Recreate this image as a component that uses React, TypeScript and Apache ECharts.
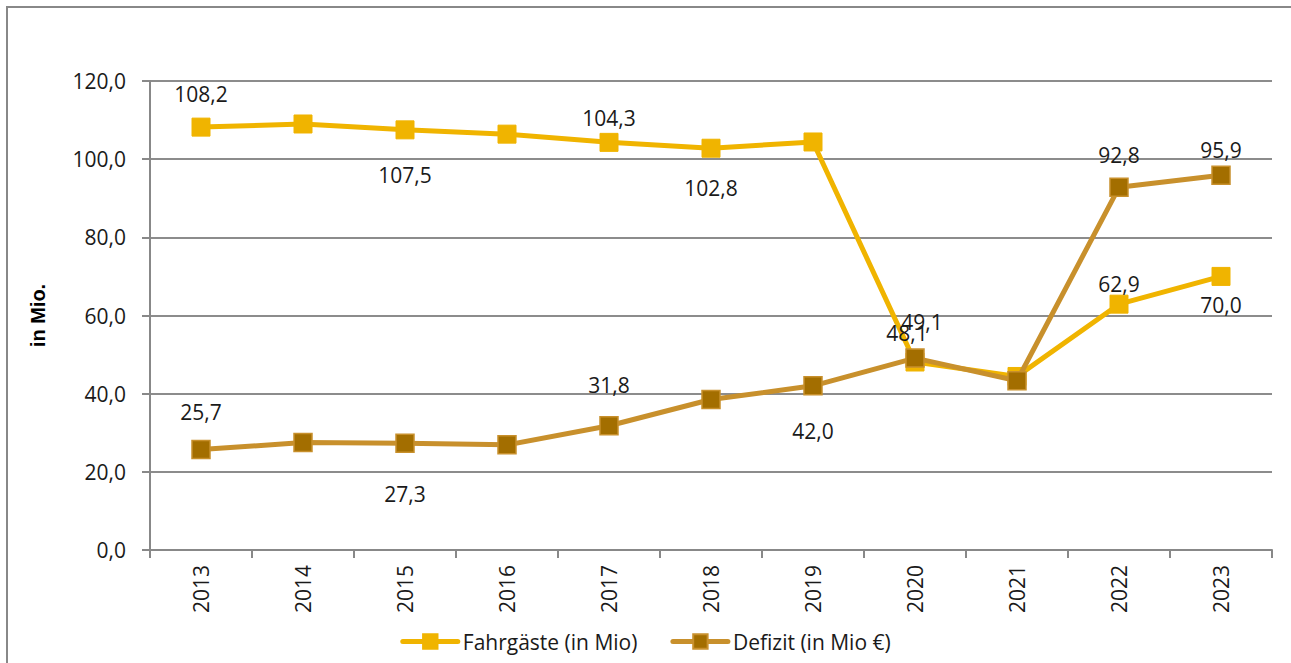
import React, { useEffect, useRef } from "react";
import * as echarts from "echarts";

const years = ["2013", "2014", "2015", "2016", "2017", "2018", "2019", "2020", "2021", "2022", "2023"];
const fahrgaeste = [108.2, 109.0, 107.5, 106.4, 104.3, 102.8, 104.4, 48.1, 44.4, 62.9, 70.0];
const defizit = [25.7, 27.5, 27.3, 26.9, 31.8, 38.5, 42.0, 49.1, 43.3, 92.8, 95.9];
// label placement per point: [position, distance, xOffset] or null
const fahrLabels: (null | [string, number, number])[] = [
  ["top", 13, 0], null, ["bottom", 25, 0], null, ["top", 4, 0], ["bottom", 20, 0], null, ["top", 9, -8], null, ["top", 0, 0], ["bottom", 9, 0],
];
const defLabels: (null | [string, number, number])[] = [
  ["top", 17, 0], null, ["bottom", 30, 0], null, ["top", 20, 0], null, ["bottom", 25, 0], ["top", 16, 7], null, ["top", 12, 0], ["top", 5, 0],
];
const yTicks = [0, 20, 40, 60, 80, 100, 120];

const fmt = (v: number) => v.toFixed(1).replace(".", ",");
const FONT = "Open Sans";
const FS = 21;

function build(values: number[], labels: (null | [string, number, number])[]) {
  return values.map((v, i) => {
    const l = labels[i];
    return {
      value: v,
      label: l
        ? { show: true, position: l[0], distance: l[1], offset: [l[2], 0] }
        : { show: false },
    };
  });
}

export default function App() {
  const ref = useRef<HTMLDivElement>(null);
  useEffect(() => {
    const chart = echarts.init(ref.current!, null, { renderer: "svg" });
    const labelStyle = {
      fontSize: FS,
      color: "#1a1a1a",
      fontFamily: FONT,
      formatter: (p: any) => fmt(p.value),
    };
    chart.setOption({
      animation: false,
      textStyle: { fontFamily: FONT },
      graphic: [
        {
          type: "rect",
          shape: { x: 7, y: 7, width: 1400, height: 800 },
          style: { fill: "none", stroke: "#888888", lineWidth: 2 },
          silent: true,
        },
      ],
      grid: { left: 150, right: 19, top: 81, bottom: 113 },
      legend: {
        top: 631,
        left: "center",
        padding: 0,
        itemWidth: 55,
        itemHeight: 18,
        itemGap: 33,
        lineStyle: { width: 5, cap: "round" },
        textStyle: { fontFamily: FONT, fontSize: FS, color: "#1a1a1a" },
        data: ["Fahrgäste (in Mio)", "Defizit (in Mio €)"],
      },
      xAxis: {
        type: "category",
        data: years,
        boundaryGap: true,
        axisLine: { lineStyle: { color: "#888888", width: 2 } },
        axisTick: { show: true, length: 8, lineStyle: { color: "#888888", width: 2 } },
        axisLabel: { rotate: 90, fontSize: FS, color: "#1a1a1a", fontFamily: FONT, margin: 15 },
      },
      yAxis: {
        type: "value",
        min: 0,
        max: 120,
        interval: 20,
        name: "in Mio.",
        nameLocation: "middle",
        nameGap: 102,
        nameRotate: 90,
        nameTextStyle: { fontWeight: "bold", fontSize: 20, color: "#000", fontFamily: "Liberation Sans" },
        axisLine: { show: true, lineStyle: { color: "#888888", width: 2 } },
        axisTick: { show: true, length: 8, lineStyle: { color: "#888888", width: 2 } },
        splitLine: { lineStyle: { color: "#8c8c8c", width: 2 } },
        axisLabel: {
          fontSize: FS,
          color: "#1a1a1a",
          fontFamily: FONT,
          margin: 24,
          formatter: (v: number) => (yTicks.includes(v) ? fmt(v) : ""),
        },
      },
      series: [
        {
          name: "Fahrgäste (in Mio)",
          type: "line",
          data: build(fahrgaeste, fahrLabels),
          symbol: "rect",
          symbolSize: 18,
          lineStyle: { color: "#F0B400", width: 5 },
          itemStyle: { color: "#F0B400", borderColor: "#F0B400", borderWidth: 1 },
          label: labelStyle,
          z: 2,
        },
        {
          name: "Defizit (in Mio €)",
          type: "line",
          data: build(defizit, defLabels),
          symbol: "rect",
          symbolSize: 18,
          lineStyle: { color: "#C8902C", width: 5 },
          itemStyle: { color: "#A36E00", borderColor: "#C8902C", borderWidth: 1.5 },
          label: labelStyle,
          z: 3,
        },
      ],
    });
    return () => chart.dispose();
  }, []);
  return (
    <div
      ref={ref}
      style={{ position: "absolute", left: 0, top: 0, width: 1291, height: 663, background: "#fff" }}
    />
  );
}
